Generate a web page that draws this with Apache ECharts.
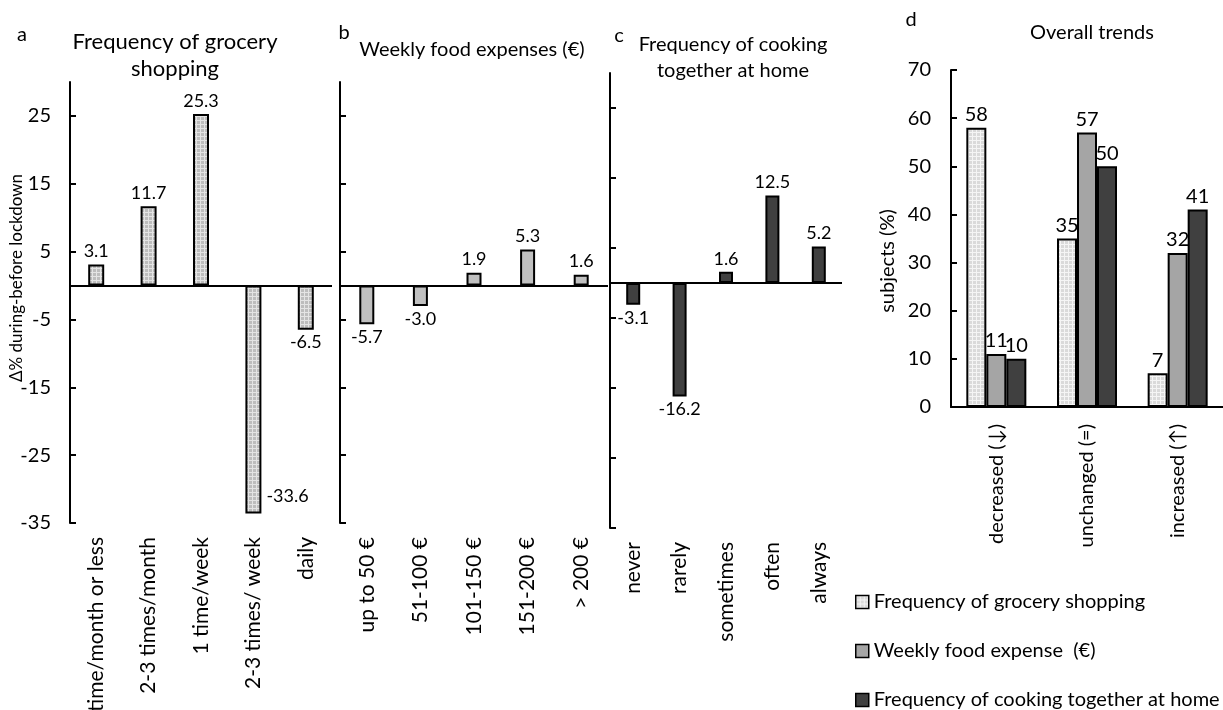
<!DOCTYPE html>
<html>
<head>
<meta charset="utf-8">
<script src="https://cdn.jsdelivr.net/npm/echarts@6/dist/echarts.min.js"></script>
<style>
  html, body { margin: 0; padding: 0; background: #ffffff; }
  #chart { width: 1223px; height: 710px; }
</style>
</head>
<body>
<div id="chart"></div>
<script>
// Panel a: change in frequency of grocery shopping (during minus before lockdown, %)
const shopCats = ['1 time/month or less', '2-3 times/month', '1 time/week', '2-3 times/ week', 'daily'];
const shopDelta = [3.1, 11.7, 25.3, -33.6, -6.5];

// Panel b: change in weekly food expenses
const expenseCats = ['up to 50 €', '51-100 €', '101-150 €', '151-200 €', '> 200 €'];
const expenseDelta = [-5.7, -3.0, 1.9, 5.3, 1.6];

// Panel c: change in frequency of cooking together at home
const cookCats = ['never', 'rarely', 'sometimes', 'often', 'always'];
const cookDelta = [-3.1, -16.2, 1.6, 12.5, 5.2];

// Panel d: overall trends (% of subjects)
const trendCats = ['decreased (↓)', 'unchanged (=)', 'increased (↑)'];
const trendNames = ['Frequency of grocery shopping', 'Weekly food expense  (€)', 'Frequency of cooking together at home'];
const trendShopping = [58, 35, 7];
const trendExpense = [11, 57, 32];
const trendCooking = [10, 50, 41];

// Tick values
const deltaTicks = [-35, -25, -15, -5, 5, 15, 25];

const FONT = 'Lato';
const INK = '#000000';

// Small tiled textures for the dotted bar fills
function texture(cell, line) {
  const c = document.createElement('canvas');
  c.width = 4; c.height = 4;
  const g = c.getContext('2d');
  g.fillStyle = cell; g.fillRect(0, 0, 4, 4);
  g.fillStyle = line; g.fillRect(0, 0, 4, 1); g.fillRect(0, 0, 1, 4);
  return { image: c, repeat: 'repeat' };
}
const shopFill = texture('#bdbdbd', '#e4e4e4');
const trendShopFill = texture('#dadada', '#f5f5f5');
const expenseFill = '#c0c0c0';
const trendExpenseFill = '#a5a5a5';
const cookFill = '#404040';

const chart = echarts.init(document.getElementById('chart'), null, { renderer: 'canvas' });

const grids = [
  { left: 70, top: 82, width: 262, height: 441 },
  { left: 340, top: 82, width: 268, height: 441 },
  { left: 610, top: 73, width: 232, height: 455 },
  { left: 951, top: 70, width: 272, height: 337 }
].map(g => Object.assign({ containLabel: false, outerBoundsMode: 'none' }, g));

function deltaYAxis(gridIndex, showLabels) {
  return {
    type: 'value', gridIndex, min: -35, max: 30,
    splitLine: { show: false },
    axisLine: { show: true, onZero: false, lineStyle: { color: INK, width: 2 } },
    axisTick: { show: true, inside: true, length: 6, customValues: deltaTicks, lineStyle: { color: INK, width: 2 } },
    axisLabel: { show: showLabels, customValues: deltaTicks, color: INK, fontFamily: FONT, fontSize: 20, margin: 19 }
  };
}

function catXAxis(gridIndex, data, fontSize, margin, showLine) {
  return {
    type: 'category', gridIndex, data, position: 'bottom',
    axisLine: { show: showLine, onZero: false, lineStyle: { color: INK, width: 2 } },
    axisTick: { show: false },
    axisLabel: { rotate: 90, interval: 0, color: INK, fontFamily: FONT, fontSize, margin }
  };
}

const zeroLine = {
  silent: true, symbol: 'none', animation: false,
  label: { show: false },
  lineStyle: { color: INK, width: 2, type: 'solid' },
  data: [{ yAxis: 0 }]
};

function deltaSeries(idx, values, fill, barWidth, overrides) {
  return {
    type: 'bar', xAxisIndex: idx, yAxisIndex: idx, barWidth,
    data: values.map((v, i) => ({
      value: v,
      label: (overrides && overrides[i]) || { position: v >= 0 ? 'top' : 'bottom' }
    })),
    itemStyle: { color: fill, borderColor: INK, borderWidth: 2 },
    label: {
      show: true, color: INK, fontFamily: FONT, fontSize: 18, distance: 4,
      formatter: p => Number(p.value).toFixed(1)
    },
    markLine: zeroLine
  };
}

function trendSeries(name, values, fill) {
  return {
    type: 'bar', name, xAxisIndex: 3, yAxisIndex: 3, data: values,
    barWidth: 20, barGap: '0%',
    itemStyle: { color: fill, borderColor: INK, borderWidth: 2 },
    label: { show: true, position: 'top', distance: 3, color: INK, fontFamily: FONT, fontSize: 20 }
  };
}

function txt(x, y, text, size, extra) {
  const el = {
    type: 'text', x, y, silent: true,
    style: { text, fill: INK, font: size + 'px ' + FONT, align: 'center', verticalAlign: 'middle' }
  };
  if (extra && extra.lineHeight) el.style.lineHeight = extra.lineHeight;
  if (extra && extra.rotation) el.rotation = extra.rotation;
  return el;
}

const option = {
  animation: false,
  backgroundColor: '#ffffff',
  grid: grids,
  xAxis: [
    catXAxis(0, shopCats, 21, 14, false),
    catXAxis(1, expenseCats, 21, 14, false),
    catXAxis(2, cookCats, 21, 14, false),
    catXAxis(3, trendCats, 20, 17, true)
  ],
  yAxis: [
    deltaYAxis(0, true),
    deltaYAxis(1, false),
    deltaYAxis(2, false),
    {
      type: 'value', gridIndex: 3, min: 0, max: 70, interval: 10,
      splitLine: { show: false },
      axisLine: { show: true, lineStyle: { color: INK, width: 2 } },
      axisTick: { show: true, inside: true, length: 6, lineStyle: { color: INK, width: 2 } },
      axisLabel: { color: INK, fontFamily: FONT, fontSize: 20, margin: 20 }
    }
  ],
  legend: {
    data: trendNames,
    orient: 'vertical', left: 855, top: 592, height: 300, padding: 0,
    itemWidth: 13, itemHeight: 13, itemGap: 29,
    icon: 'rect',
    textStyle: { color: INK, fontFamily: FONT, fontSize: 20 },
    itemStyle: { borderColor: INK, borderWidth: 1.5 }
  },
  series: [
    deltaSeries(0, shopDelta, shopFill, 16, {
      3: { position: ['100%', '100%'], align: 'left', verticalAlign: 'bottom', offset: [5, -8] }
    }),
    deltaSeries(1, expenseDelta, expenseFill, 15),
    deltaSeries(2, cookDelta, cookFill, 14),
    trendSeries(trendNames[0], trendShopping, trendShopFill),
    trendSeries(trendNames[1], trendExpense, trendExpenseFill),
    trendSeries(trendNames[2], trendCooking, cookFill)
  ],
  graphic: [
    txt(22, 35, 'a', 20),
    txt(175, 55, 'Frequency of grocery\nshopping', 22, { lineHeight: 27 }),
    txt(344, 33, 'b', 20),
    txt(472, 50, 'Weekly food expenses (€)', 20),
    txt(619, 36, 'c', 20),
    txt(733, 58, 'Frequency of cooking\ntogether at home', 20, { lineHeight: 26 }),
    txt(911, 20, 'd', 20),
    txt(1092, 33, 'Overall trends', 20),
    txt(17, 278, 'Δ% during-before lockdown', 17, { rotation: Math.PI / 2 }),
    txt(888, 261, 'subjects (%)', 20, { rotation: Math.PI / 2 })
  ]
};

chart.setOption(option);
</script>
</body>
</html>
